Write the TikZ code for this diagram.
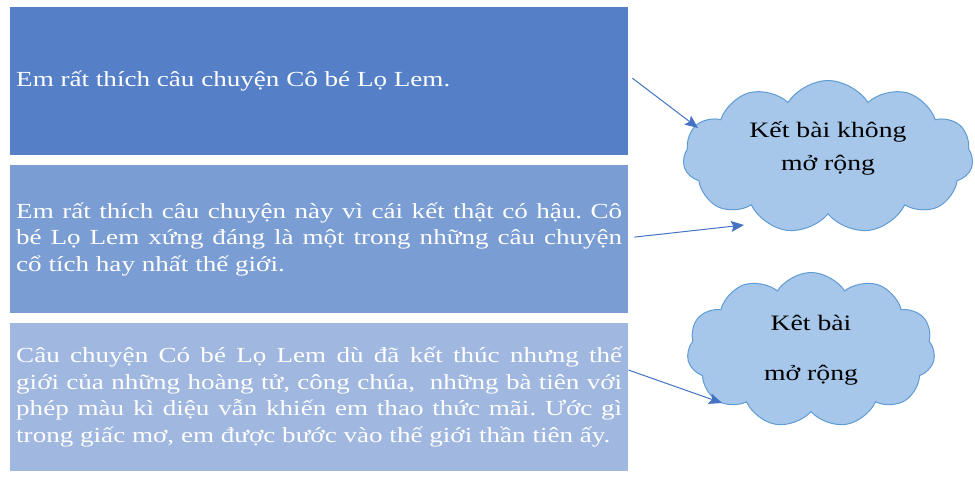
\documentclass[tikz,border=0pt]{standalone}
\usepackage{fontspec}
\setmainfont{Liberation Serif}[FakeStretch=1.26]
\usetikzlibrary{shapes,arrows.meta,positioning,calc}
\definecolor{boxA}{RGB}{85,128,200}
\definecolor{boxB}{RGB}{122,157,212}
\definecolor{boxC}{RGB}{160,183,224}
\definecolor{cloudfill}{RGB}{166,199,234}
\definecolor{cloudline}{RGB}{96,155,212}
\definecolor{arrowblue}{RGB}{68,114,196}
\frenchspacing
\tikzset{
    textbox/.style={rectangle, text=white, minimum width=618pt, minimum height=148pt, text width=606pt, align=justify, inner sep=0pt, font=\fontsize{21.5}{26.5}\selectfont},
    bubble/.style={cloud, cloud puffs=11, cloud puff arc=115, cloud ignores aspect, draw=cloudline, fill=cloudfill, line width=1pt, align=center, inner sep=0pt, font=\fontsize{22}{33}\selectfont},
    line/.style={draw=arrowblue, -{Stealth[length=13pt, width=11pt, inset=2.5pt]}, line width=1pt}
}
\begin{document}
\begin{tikzpicture}[x=1pt, y=-1pt, node distance=9.5pt]
    \useasboundingbox (0,0) rectangle (975,488);
    \node [textbox, fill=boxA, anchor=north west] (intro) at (10,7) {Em rất thích câu chuyện Cô bé Lọ Lem.};
    \node [textbox, fill=boxB, below=of intro] (reason) {Em rất thích câu chuyện này vì cái kết thật có hậu. Cô\linebreak bé Lọ Lem xứng đáng là một trong những câu chuyện\linebreak cổ tích hay nhất thế giới.};
    \node [textbox, fill=boxC, below=of reason] (dream) {Câu chuyện Có bé Lọ Lem dù đã kết thúc nhưng thế\linebreak giới của những hoàng tử, công chúa,\ \ những bà tiên với\linebreak phép màu kì diệu vẫn khiến em thao thức mãi. Ước gì\linebreak trong giấc mơ, em được bước vào thế giới thần tiên ấy.};
    \node [bubble, minimum width=290pt, minimum height=153pt, text depth=21pt] (closed) at (828,157) {Kết bài không\\mở rộng};
    \node [bubble, minimum width=248pt, minimum height=155pt, font=\fontsize{22}{50}\selectfont] (open) at (811,350) {Kêt bài\\mở rộng};

    \path [line] ([xshift=4pt, yshift=3pt]intro.east) -- ($(closed.center)+(-130,-29)$);
    \path [line] ([xshift=6pt, yshift=2pt]reason.east) -- ($(closed.center)+(-84,68)$);
    \path [line] ([yshift=27pt]dream.east) -- ($(open.center)+(-89,53)$);
\end{tikzpicture}
\end{document}
